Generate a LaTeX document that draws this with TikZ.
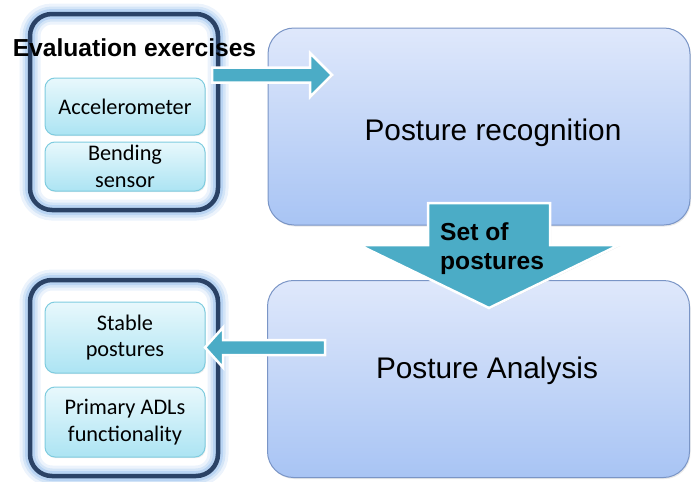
\documentclass[tikz,border=0pt]{standalone}
\usepackage{fontspec}
\setmainfont{Liberation Sans}
\newfontfamily\calibfont{Carlito}
\usetikzlibrary{shadows}

\definecolor{boxtop}{HTML}{DFE8FB}
\definecolor{boxbot}{HTML}{A8C4F4}
\definecolor{boxline}{HTML}{7A95C6}
\definecolor{celltop}{HTML}{E8F8FC}
\definecolor{cellbot}{HTML}{ACE4F3}
\definecolor{cellline}{HTML}{7FCCDF}
\definecolor{framec}{HTML}{2A4266}
\definecolor{glowc}{HTML}{9EC4EE}
\definecolor{arrowc}{HTML}{4BACC6}

\tikzset{
  bigbox/.style={draw=boxline, line width=1pt, rounded corners=26pt,
    top color=boxtop, bottom color=boxbot,
    minimum width=422pt, minimum height=197pt,
    drop shadow={opacity=.18, shadow xshift=1pt, shadow yshift=-1.5pt}},
  grpframe/.style={draw=framec, line width=4.5pt, rounded corners=22pt,
    minimum width=188pt, minimum height=196pt,
    preaction={draw=glowc, line width=21pt, draw opacity=.2},
    preaction={draw=glowc, line width=15pt, draw opacity=.3},
    preaction={draw=glowc, line width=10pt, draw opacity=.5}},
  cell/.style={draw=cellline, line width=1pt, rounded corners=10pt,
    top color=celltop, bottom color=cellbot, minimum width=160pt,
    inner sep=0pt, align=center,
    font=\calibfont\fontsize{22.3}{26.5}\selectfont,
    drop shadow={opacity=.15, shadow xshift=.8pt, shadow yshift=-1.2pt}},
  bigtext/.style={anchor=base, inner sep=0pt, font=\fontsize{29.8}{36}\selectfont},
  boldtext/.style={inner sep=0pt, font=\bfseries\fontsize{24.6}{29}\selectfont},
  blockarr/.style={fill=arrowc, draw=white, line width=2.5pt,
    drop shadow={opacity=.25, shadow xshift=1pt, shadow yshift=-1pt}}
}

\begin{document}
\begin{tikzpicture}[x=1pt, y=-1pt]
    \useasboundingbox (0,0) rectangle (691,482);

    % stages
    \node (recbox) [bigbox] at (479,126.5) {};
    \node (anabox) [bigbox] at (478.5,379) {};
    \node (rectxt) [bigtext] at (493,140) {Posture recognition};
    \node (anatxt) [bigtext] at (487,378) {Posture Analysis};

    % input and output groups
    \node (evalgrp) [grpframe] at (124,112) {};
    \node (resgrp) [grpframe] at (124,378) {};
    \node (accel) [cell, minimum height=57pt] at (125,106.5) {Accelerometer};
    \node (bend) [cell, minimum height=49pt] at (125,166.5) {Bending\\sensor};
    \node (stable) [cell, minimum height=71pt] at (125,337.5) {Stable\\postures};
    \node (adl) [cell, minimum height=70pt] at (125,422) {Primary ADLs\\functionality};

    % block arrows
    \coordinate (r0) at (212,75); \coordinate (r1) at (332,75);
    \draw[blockarr] (r0) ++(0,-7.5) -- ++(98,0) -- ++(0,-14.5) -- (r1)
        -- ++(-22,22) -- ++(0,-14.5) -- ++(-98,0) -- cycle;
    \coordinate (d0) at (489,203); \coordinate (d1) at (489,308);
    \draw[blockarr] (d0) ++(-61,0) -- ++(0,42) -- ++(-69,0) -- (d1)
        -- ++(130,-63) -- ++(-69,0) -- ++(0,-42) -- cycle;
    \coordinate (l0) at (325,347.5); \coordinate (l1) at (205,347.5);
    \draw[blockarr] (l0) ++(0,-7.5) -- ++(-102,0) -- ++(0,-12.5) -- (l1)
        -- ++(18,20) -- ++(0,-12.5) -- ++(102,0) -- cycle;

    \node (evaltxt) [boldtext, anchor=base] at (134.5,56) {Evaluation exercises};
    \node (soptxt) [boldtext, anchor=north west, align=left] at (440,222) {Set of\\postures};
\end{tikzpicture}
\end{document}
